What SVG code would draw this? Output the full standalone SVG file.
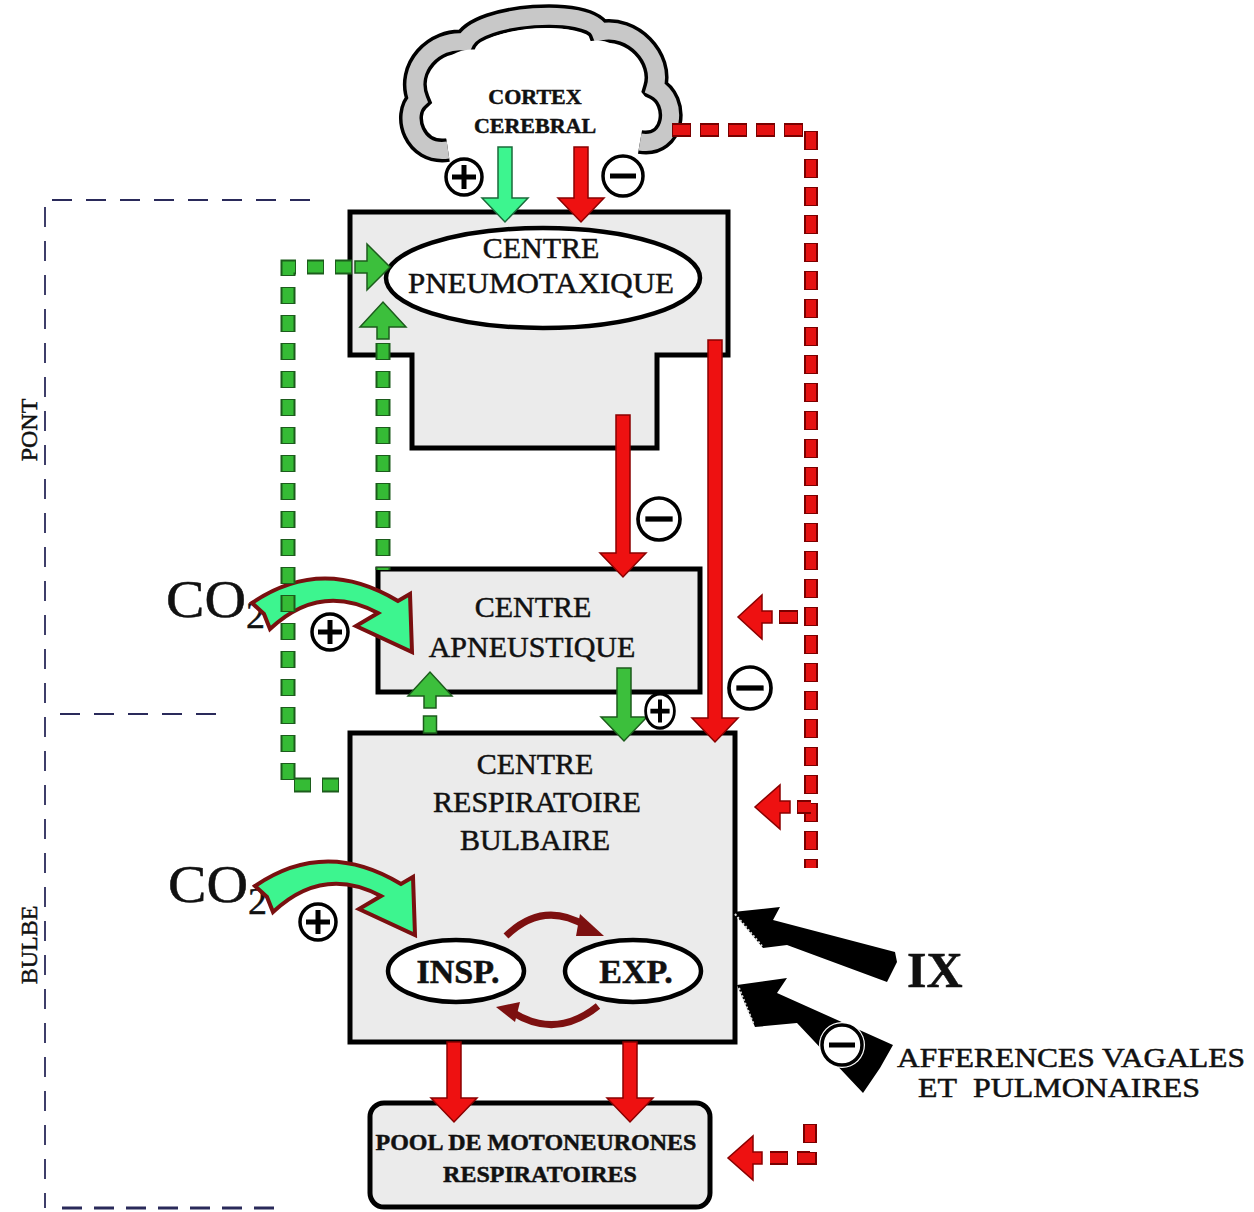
<svg xmlns="http://www.w3.org/2000/svg" width="1254" height="1212" viewBox="0 0 1254 1212">
<style>
.t{font-family:"Liberation Serif","Times New Roman",serif;fill:#111;stroke:#111;stroke-width:0.5;text-anchor:middle}
.s{text-anchor:start}
.box{fill:#ebebeb;stroke:#000;stroke-width:5}
.ell{fill:#fff;stroke:#000;stroke-width:4.5}
.red{fill:#ee1111;stroke:#8a0000;stroke-width:1.5}
.grn{fill:#3cbf3c;stroke:#1c5c1c;stroke-width:1.5}
.sg{fill:#3df58f;stroke:#1a6a3a;stroke-width:1.5}
.co2{fill:#3df58f;stroke:#7a1010;stroke-width:4;stroke-linejoin:miter}
.rdo{fill:none;stroke:#7a0000;stroke-width:14;stroke-dasharray:19 9}
.rdi{fill:none;stroke:#e51212;stroke-width:10;stroke-dasharray:17 11;stroke-dashoffset:-1}
.gdo{fill:none;stroke:#1c5c1c;stroke-width:15;stroke-dasharray:17 11}
.gdi{fill:none;stroke:#35bb35;stroke-width:11;stroke-dasharray:15 13;stroke-dashoffset:-1}
.reg{fill:none;stroke:#2a2a5a;stroke-width:1.8;stroke-dasharray:20 14}
.brn{fill:none;stroke:#7d1010;stroke-width:7}
.brnh{fill:#7d1010}
.blk{fill:#000}
.dot{stroke:#e0e0e0;stroke-width:2;stroke-dasharray:2 2}
</style>
<defs>
<g id="plus"><circle r="18" fill="#fff" stroke="#000" stroke-width="3.5"/><path d="M-12,0H12M0,-12V12" stroke="#000" stroke-width="5"/></g>
<g id="minus"><circle r="20" fill="#fff" stroke="#000" stroke-width="3.5"/><path d="M-13,0H13" stroke="#000" stroke-width="5"/></g>
<path id="cloud" d="M448,150C414,155 402,115 418,100C405,68 435,38 465,42C478,14 590,6 600,32C632,25 664,58 655,88C680,100 675,148 640,142"/>
<path id="co2arrow" d="M252,603Q322,555 398,601L410,594L412,652L356,626L378,613Q320,582 270,629L264,614Z"/>
</defs>
<rect width="1254" height="1212" fill="#fff"/>

<g id="regions">
<path class="reg" d="M310,200H45V1208"/>
<path class="reg" d="M60,714H220"/>
<path fill="none" stroke="#2a2a5a" stroke-width="3" stroke-dasharray="20 12" d="M62,1208H282"/>
<text class="t" font-size="24" transform="translate(37,430) rotate(-90)">PONT</text>
<text class="t" font-size="24" transform="translate(37,945) rotate(-90)">BULBE</text>
</g>

<g id="cortex">
<use href="#cloud" fill="#fff" stroke="#000" stroke-width="24"/>
<use href="#cloud" fill="none" stroke="#c8c8c8" stroke-width="17"/>
<path d="M448,150C414,155 402,115 418,100C405,68 435,38 465,42C478,14 590,6 600,32C632,25 664,58 655,88C680,100 675,148 640,142Z" fill="#fff" transform="translate(535,90) scale(0.84) translate(-535,-90)"/>
<text class="t" font-size="22" font-weight="bold" x="535" y="104">CORTEX</text>
<text class="t" font-size="22" font-weight="bold" x="535" y="133">CEREBRAL</text>
</g>

<g id="pneumotaxique">
<path class="box" d="M350,212H728V355H657V448H412V355H350Z"/>
<ellipse class="ell" cx="543" cy="278" rx="157" ry="50"/>
<text class="t" font-size="30" x="541" y="258">CENTRE</text>
<text class="t" font-size="30" x="541" y="293" textLength="266" lengthAdjust="spacingAndGlyphs">PNEUMOTAXIQUE</text>
</g>

<g id="apneustique">
<rect class="box" x="378" y="569" width="322" height="123"/>
<text class="t" font-size="30" x="533" y="617">CENTRE</text>
<text class="t" font-size="30" x="532" y="657">APNEUSTIQUE</text>
</g>

<g id="bulbaire">
<rect class="box" x="350" y="733" width="385" height="309"/>
<text class="t" font-size="30" x="535" y="774">CENTRE</text>
<text class="t" font-size="30" x="537" y="812">RESPIRATOIRE</text>
<text class="t" font-size="30" x="535" y="850">BULBAIRE</text>
<g id="insp"><ellipse class="ell" cx="456" cy="971" rx="68" ry="31"/><text class="t" font-size="34" font-weight="bold" x="458" y="983">INSP.</text></g>
<g id="exp"><ellipse class="ell" cx="633" cy="971" rx="68" ry="31"/><text class="t" font-size="34" font-weight="bold" x="636" y="983">EXP.</text></g>
</g>

<g id="pool">
<rect class="box" x="370" y="1103" width="340" height="104" rx="14"/>
<text class="t" font-size="24" font-weight="bold" x="536" y="1150">POOL DE MOTONEURONES</text>
<text class="t" font-size="24" font-weight="bold" x="540" y="1182">RESPIRATOIRES</text>
</g>

<g id="labels">
<text class="t s" font-size="52" x="166" y="617" textLength="80" lengthAdjust="spacingAndGlyphs">CO</text>
<text class="t s" font-size="38" x="246" y="628">2</text>
<text class="t s" font-size="52" x="168" y="902" textLength="80" lengthAdjust="spacingAndGlyphs">CO</text>
<text class="t s" font-size="38" x="248" y="914">2</text>
<text class="t s" font-size="50" font-weight="bold" x="907" y="987">IX</text>
<text class="t s" font-size="27" x="897" y="1067" textLength="348" lengthAdjust="spacingAndGlyphs">AFFERENCES VAGALES</text>
<text class="t s" font-size="27" x="918" y="1097" textLength="282" lengthAdjust="spacingAndGlyphs">ET&#160; PULMONAIRES</text>
</g>

<g id="connectors">
<path class="sg" d="M498,147H512V198H528L505,222L482,198H498Z"/>
<path class="red" d="M574,147H588V198H604L581,222L558,198H574Z"/>
<use href="#plus" transform="translate(464,177)"/>
<use href="#minus" transform="translate(623,176)"/>
<path class="rdo" d="M672,130H811V868"/>
<path class="rdi" d="M672,130H811V868"/>
<path class="rdo" d="M779,617H799"/><path class="rdi" d="M779,617H799"/>
<path class="red" d="M772,611H762V595L738,617L762,639V623H772Z"/>
<path class="rdo" d="M797,807H811"/><path class="rdi" d="M797,807H811"/>
<path class="red" d="M790,801H780V785L755,807L780,829V813H790Z"/>
<path class="rdo" d="M810,1124V1158H770"/><path class="rdi" d="M810,1124V1158H770"/>
<path class="red" d="M762,1152H753V1136L728,1158L753,1180V1164H762Z"/>
<path class="red" d="M616,415H630V553H646L623,577L600,553H616Z"/>
<use href="#minus" transform="translate(659,519) scale(1.05)"/>
<path class="red" d="M708,340H722V718H738L715,742L692,718H708Z"/>
<use href="#minus" transform="translate(750,688) scale(1.05)"/>
<path class="grn" d="M617,668H631V717H647L624,741L601,717H617Z"/>
<use href="#plus" transform="translate(660,711) scale(0.8,0.95)"/>
<use href="#co2arrow" class="co2"/>
<use href="#plus" transform="translate(330,632)"/>
<use href="#co2arrow" class="co2" transform="translate(3,283)"/>
<use href="#plus" transform="translate(318,922)"/>
<path class="gdo" d="M352,267H288V785H349"/>
<path class="gdi" d="M352,267H288V785H349"/>
<path class="grn" d="M355,261H367V244L390,267L367,290V273H355Z"/>
<path class="gdo" d="M383,343V570"/>
<path class="gdi" d="M383,343V570"/>
<path class="grn" d="M377,339V327H360L383,302L406,327H389V339Z"/>
<rect class="grn" x="423.5" y="716" width="13" height="17"/>
<path class="grn" d="M424,708V696H408L430,672L452,696H436V708Z"/>
<path class="brn" d="M506,936Q543,900 586,926"/>
<path class="brnh" d="M580,914L604,936L576,936Z"/>
<path class="brn" d="M598,1006Q556,1040 512,1012"/>
<path class="brnh" d="M520,1002L496,1007L515,1022Z"/>
<path class="red" d="M447,1042H461V1098H477L454,1122L431,1098H447Z"/>
<path class="red" d="M623,1042H637V1098H653L630,1122L607,1098H623Z"/>
<path class="blk" d="M733,912L780,907L773,920L895,952L897,962L887,982L787,945L763,948Z"/>
<path class="dot" d="M735,914L762,946"/>
<path class="blk" d="M737,985L787,978L777,993L893,1045L880,1068L863,1093L797,1023L755,1027Z"/>
<path class="dot" d="M739,988L754,1025"/>
<circle cx="842" cy="1045" r="23" fill="#fff"/>
<use href="#minus" transform="translate(842,1045)"/>
</g>
</svg>
